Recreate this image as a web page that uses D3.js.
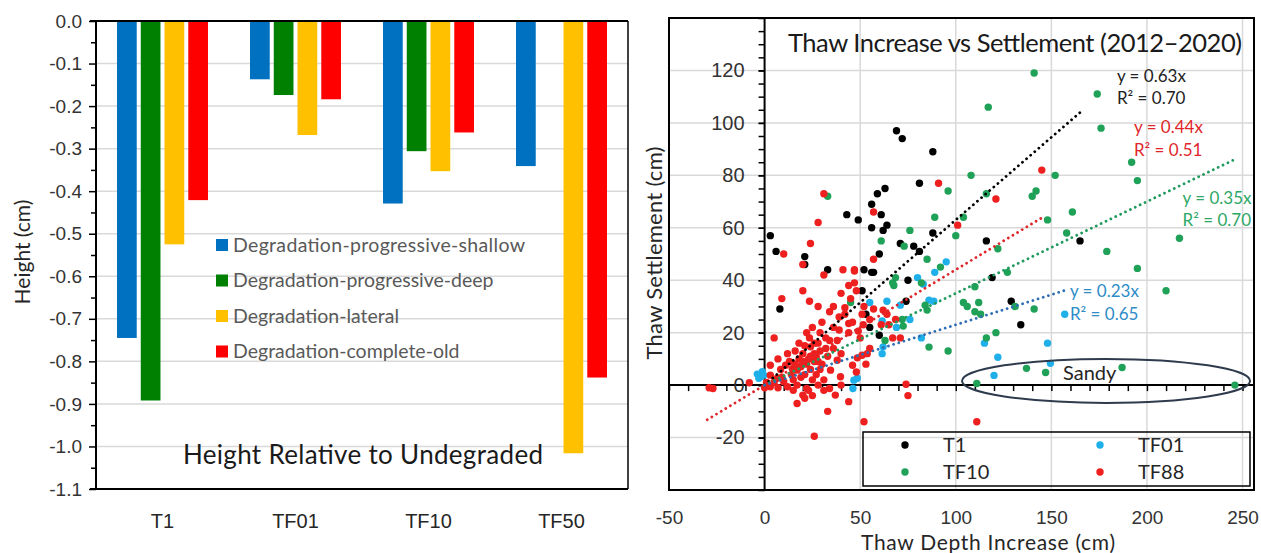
<!DOCTYPE html>
<html>
<head>
<meta charset="utf-8">
<script src="https://cdn.jsdelivr.net/npm/d3@7"></script>
<style>
  body { margin: 0; background: #fff; }
  svg { display: block; font-family: Lato, "Open Sans", sans-serif; }
</style>
</head>
<body>
<svg id="chart" width="1261" height="553"></svg>
<script>
// ---- left panel: bar chart ----
const sites = ['T1', 'TF01', 'TF10', 'TF50'];
const degradationTypes = ['Degradation-progressive-shallow', 'Degradation-progressive-deep', 'Degradation-lateral', 'Degradation-complete-old'];
const shallowVals = [-0.745, -0.137, -0.429, -0.341];
const deepVals = [-0.892, -0.174, -0.306, null];
const lateralVals = [-0.525, -0.268, -0.353, -1.016];
const completeOldVals = [-0.421, -0.184, -0.262, -0.838];
const heightTicks = [0, -0.1, -0.2, -0.3, -0.4, -0.5, -0.6, -0.7, -0.8, -0.9, -1.0, -1.1];
const barColors = ['#0070c0', '#008000', '#ffc000', '#ff0000'];

// ---- right panel: scatter ----
const t1Points = [[3,57],[6,51],[21,49],[21,46],[33,44],[43,65],[49,63],[56,69],[61,65],[56,60],[62,59],[64,61],[59,73],[63,75],[69,97],[72,94],[88,89],[81,77],[71,54],[78,53],[81,51],[88,58],[60,50],[56,43],[52,44],[57,43],[116,55],[165,55],[119,41],[129,32],[134,23],[75,40],[74,32],[8,29],[51,36],[53,27],[55,22],[60,19]];
const tf01Points = [[95,47],[89,43],[80,41],[83,38.5],[157,27],[115,16],[148,16],[122,10.6],[149.5,8.3],[120,3.7],[64,32],[71,30.5],[86,32.4],[88.5,32],[76,25],[69,22],[61.5,24.5],[82,18],[62,14.6],[61.5,12],[55,31.5],[-3.8,4.2],[-2.1,3.2],[-1.2,5.1],[-3,2.6],[-0.5,3.8],[46.7,1.9],[46.2,-1.3],[48.5,2.6]];
const tf10Points = [[33,72],[61,55],[76,59],[73,53],[89,64],[96,74],[85,48],[92,45],[68.5,41],[108,80],[116,73],[104,64],[100,57],[122,52],[142,74],[140,72],[148,63],[127,43],[141,119],[117,106],[174,111],[176,98],[192,85],[195,78],[152,80],[161,66],[158,58],[179,51],[217,56],[195,44.5],[210,36],[110,37.5],[104,31.5],[106,30],[112,31.5],[110,28],[113,27],[131,30],[141,29],[96,13],[116,18],[121,20],[137,6.4],[147,4.8],[187,6.7],[111,0.6],[246,0],[67.6,38],[84,30.5],[85,28.6],[72.5,22.5],[72,25],[63,17],[86,14.5],[45,31.5],[67,39],[82,39]];
const tf88Points = [[10,50],[20,46],[24,54],[28,62],[31,73],[31,42],[41,44],[47,44],[57,66],[57,48],[91,77],[121,71],[145,82],[101,61],
  [9,33],[20,36],[23.5,32],[28,30],[34,28],[40,35],[44,38],[47,39],[47,43.5],[5,18],[23.5,18],[32,18],[39,21],[44,23.5],[46,24],[42,29.5],[42,27],[52,30],[51,27],[51.6,23],[49,20.6],[44,20],[57,29],[61,23],[64,27],[65,23],[68.5,25],[67,18],[71,18],[62,28.6],
  [74,0.3],[75,-4],[111,-14],[52,-14],[26,-19.5],[33,-10],[44,-6.3],[37,-3.8],[-29,-1],[-27,-1.3],[-8,0.9],
  [29,13],[24,14.6],[26,12],[38,9.5],[34.5,5.7],[39.7,3.2],[46,7.6],[48.5,10.4],[51,11.4],[53.7,12],[55,14],[3,7.6],[3,3.8],[8.4,6],[11,7.6],[14.5,6.3],[17,5.7],[6.6,2.6],[10,1.3],[3,-0.6],[12,-0.6],[17,0],[22,-1.3],[28,0],[34,-1.3],[20,-3.8],[23,-2],[21,-5],[17,-7],
  [18,10],[20,12],[22,8],[24,6],[26,9],[27,4],[25,2],[19,3],[15,2],[13,9],[21,15],[16,13],[28,16],[30,8],[31,2],[36,14],[33,11],[12,12],[7,10],[22,20],[25,22],[30,24],[36,22],[38,17],[40,12],[27,11],[23,10],[19,7],[29,6],[14,4],[9,3],[5,1],[1,1],[0,-1],[36,30],[39,26],[45,33],[48,36],[50,18],[55,25],[53,8],[48,5],[31,-2],[25,-4],[15,-2],[7,-1],[40,0],
  [18,16],[20,9],[24,11],[26,16],[28,9],[21,4],[16,8],[32,14],[34,17],[29,20]];
const seriesNames = ['T1', 'TF01', 'TF10', 'TF88'];
const pointColors = ['#000000', '#1fb0ea', '#1fa257', '#ee1f1f'];
const trendSlopes = [0.63, 0.44, 0.35, 0.23];
const trendSpans = [[0, 165], [-30, 145], [0, 246], [0, 158]];
const trendColors = ['#000000', '#e0262a', '#1f9a5c', '#2f6db3'];
const eqLabels = ['y = 0.63x', 'y = 0.44x', 'y = 0.35x', 'y = 0.23x'];
const r2Labels = ['R\u00b2 = 0.70', 'R\u00b2 = 0.51', 'R\u00b2 = 0.70', 'R\u00b2 = 0.65'];
const eqAnchors = [[184.3, 115.6], [193.2, 96.1], [218.6, 69.1], [159.7, 33.6]];
const eqColors = ['#222222', '#e0262a', '#2ea866', '#2e8cc8'];
const depthTicks = [-50, 0, 50, 100, 150, 200, 250];
const settleTicks = [-20, 0, 20, 40, 60, 80, 100, 120];

const svg = d3.select('#chart');
svg.append('rect').attr('width', 1261).attr('height', 553).attr('fill', '#fff');

// ================= LEFT PANEL =================
const L = { left: 96, right: 628, top: 21, bottom: 489 };
const x0 = d3.scaleBand().domain(sites).range([L.left, L.right]).paddingInner(0.316).paddingOuter(0.158);
const x1 = d3.scaleBand().domain(degradationTypes).range([0, x0.bandwidth()]).paddingInner(0.17).paddingOuter(0);
const yH = d3.scaleLinear().domain([-1.1, 0]).range([L.bottom, L.top]);

const left = svg.append('g');

// gridlines
left.append('g').selectAll('line')
  .data(heightTicks.filter(d => d < 0 && d > -1.1))
  .join('line')
  .attr('x1', L.left).attr('x2', L.right)
  .attr('y1', d => yH(d)).attr('y2', d => yH(d))
  .attr('stroke', '#d9d9d9').attr('stroke-width', 1.5);

// bars
const barSeries = [shallowVals, deepVals, lateralVals, completeOldVals];
degradationTypes.forEach((name, i) => {
  left.append('g').selectAll('rect')
    .data(barSeries[i].map((v, j) => ({ site: sites[j], v })).filter(d => d.v !== null))
    .join('rect')
    .attr('x', d => x0(d.site) + x1(name))
    .attr('width', x1.bandwidth())
    .attr('y', yH(0))
    .attr('height', d => yH(d.v) - yH(0))
    .attr('fill', barColors[i]);
});

// axes
const yAxisL = left.append('g').attr('transform', `translate(${L.left},0)`)
  .call(d3.axisLeft(yH).tickValues(heightTicks).tickSize(7).tickPadding(7).tickFormat(d => d.toFixed(1)));
yAxisL.select('.domain').remove();
yAxisL.selectAll('line').attr('stroke', '#000').attr('stroke-width', 1.5);
yAxisL.selectAll('text').attr('font-size', 19).attr('fill', '#333');

const minorL = left.append('g').attr('transform', `translate(${L.left},0)`)
  .call(d3.axisLeft(yH).tickValues(d3.range(-1.05, 0, 0.1)).tickSize(5).tickFormat(''));
minorL.select('.domain').remove();
minorL.selectAll('line').attr('stroke', '#000').attr('stroke-width', 1.5);

left.append('line').attr('x1', L.left).attr('x2', L.left).attr('y1', yH(0)).attr('y2', yH(-1.1)).attr('stroke', '#000').attr('stroke-width', 2);
left.append('line').attr('x1', L.left - 6).attr('x2', L.right).attr('y1', yH(0)).attr('y2', yH(0)).attr('stroke', '#000').attr('stroke-width', 2);
left.append('line').attr('x1', L.left - 6).attr('x2', L.right).attr('y1', yH(-1.1)).attr('y2', yH(-1.1)).attr('stroke', '#000').attr('stroke-width', 2);
left.append('line').attr('x1', L.right).attr('x2', L.right).attr('y1', yH(0)).attr('y2', yH(-1.1)).attr('stroke', '#000').attr('stroke-width', 1.5);

const xAxisL = left.append('g').attr('transform', `translate(0,${L.bottom})`)
  .call(d3.axisBottom(x0).tickSize(0).tickPadding(25));
xAxisL.select('.domain').remove();
xAxisL.selectAll('text').attr('font-size', 20).attr('fill', '#262626');

left.append('text')
  .attr('transform', 'translate(30,252) rotate(-90)')
  .attr('text-anchor', 'middle').attr('font-size', 21).attr('fill', '#262626')
  .text('Height (cm)');

left.append('text')
  .attr('x', 183).attr('y', 464).attr('font-size', 26).attr('fill', '#1a1a1a')
  .attr('textLength', 360)
  .text('Height Relative to Undegraded');

// legend
const legL = left.append('g').selectAll('g').data(degradationTypes).join('g')
  .attr('transform', (d, i) => `translate(216,${245 + i * 35.5})`);
legL.append('rect').attr('x', 0).attr('y', -6).attr('width', 12).attr('height', 12).attr('fill', (d, i) => barColors[i]);
legL.append('text').attr('x', 17).attr('y', 6.5).attr('font-size', 19.5).attr('fill', '#595959').text(d => d);
legL.filter((d, i) => i === 0).select('text').attr('textLength', 292);

// ================= RIGHT PANEL =================
const R = { left: 669, right: 1254, top: 18, bottom: 490 };
const xs = d3.scaleLinear().domain([-50, 256]).range([R.left, R.right]);
const ys = d3.scaleLinear().domain([-40, 140]).range([R.bottom, R.top]);

const right = svg.append('g');

// gridlines
right.append('g').selectAll('line').data([50, 100, 150, 200, 250]).join('line')
  .attr('x1', d => xs(d)).attr('x2', d => xs(d)).attr('y1', R.top).attr('y2', R.bottom)
  .attr('stroke', '#d9d9d9').attr('stroke-width', 1.5);
right.append('g').selectAll('line').data(settleTicks.filter(d => d !== 0)).join('line')
  .attr('x1', R.left).attr('x2', R.right).attr('y1', d => ys(d)).attr('y2', d => ys(d))
  .attr('stroke', '#d9d9d9').attr('stroke-width', 1.5);

// axes through origin
right.append('line').attr('x1', R.left).attr('x2', R.right).attr('y1', ys(0)).attr('y2', ys(0)).attr('stroke', '#000').attr('stroke-width', 2);
right.append('line').attr('x1', xs(0)).attr('x2', xs(0)).attr('y1', R.top).attr('y2', R.bottom).attr('stroke', '#000').attr('stroke-width', 2);

const yAxisR = right.append('g').attr('transform', `translate(${xs(0)},0)`)
  .call(d3.axisLeft(ys).tickValues(settleTicks).tickSize(6).tickPadding(14).tickFormat(d => String(d)));
yAxisR.select('.domain').remove();
yAxisR.selectAll('line').attr('stroke', '#000').attr('stroke-width', 1.5);
yAxisR.selectAll('text').attr('font-size', 20).attr('fill', '#333');

const minorYR = right.append('g').attr('transform', `translate(${xs(0)},0)`)
  .call(d3.axisLeft(ys).tickValues(d3.range(-40, 141, 5)).tickSize(6).tickFormat(''));
minorYR.select('.domain').remove();
minorYR.selectAll('line').attr('stroke', '#000').attr('stroke-width', 1.5);

const minorXR = right.append('g').attr('transform', `translate(0,${ys(0)})`)
  .call(d3.axisBottom(xs).tickValues(d3.range(-50, 251, 10)).tickSize(6).tickFormat(''));
minorXR.select('.domain').remove();
minorXR.selectAll('line').attr('stroke', '#000').attr('stroke-width', 1.5);

const xAxisR = right.append('g').attr('transform', `translate(0,${R.bottom})`)
  .call(d3.axisBottom(xs).tickValues(depthTicks).tickSize(0).tickPadding(21).tickFormat(d => String(d)));
xAxisR.select('.domain').remove();
xAxisR.selectAll('text').attr('font-size', 19).attr('fill', '#333');

// points
const allPoints = [t1Points, tf01Points, tf10Points, tf88Points];
allPoints.forEach((pts, i) => {
  right.append('g').selectAll('circle').data(pts).join('circle')
    .attr('cx', d => xs(d[0])).attr('cy', d => ys(d[1])).attr('r', 3.7)
    .attr('fill', pointColors[i]);
});

// trend lines: black, red, green, blue
trendSlopes.forEach((m, i) => {
  const span = trendSpans[i];
  right.append('line')
    .attr('x1', xs(span[0])).attr('y1', ys(m * span[0]))
    .attr('x2', xs(span[1])).attr('y2', ys(m * span[1]))
    .attr('stroke', trendColors[i]).attr('stroke-width', 2.8)
    .attr('stroke-linecap', 'round').attr('stroke-dasharray', '0.01 5.4');
});

// equations
eqLabels.forEach((t, i) => {
  const a = eqAnchors[i];
  right.append('text').attr('x', xs(a[0])).attr('y', ys(a[1]))
    .attr('font-size', 17).attr('fill', eqColors[i]).text(t);
  right.append('text').attr('x', xs(a[0])).attr('y', ys(a[1]) + 22.5)
    .attr('font-size', 17).attr('fill', eqColors[i]).text(r2Labels[i]);
});

// sandy ellipse
right.append('ellipse').attr('cx', xs(178.6)).attr('cy', ys(1.6)).attr('rx', 144).attr('ry', 22)
  .attr('fill', 'none').attr('stroke', '#2e3b4c').attr('stroke-width', 2);
right.append('text').attr('x', 1063).attr('y', 380).attr('font-size', 20).attr('fill', '#262626').text('Sandy');

// frame
right.append('rect').attr('x', R.left).attr('y', R.top).attr('width', R.right - R.left).attr('height', R.bottom - R.top)
  .attr('fill', 'none').attr('stroke', '#000').attr('stroke-width', 2);

// legend (fills row-wise: T1, TF01 / TF10, TF88)
right.append('rect').attr('x', 863).attr('y', 432).attr('width', 387).attr('height', 54)
  .attr('fill', 'none').attr('stroke', '#000').attr('stroke-width', 1.5);
const legR = right.append('g').selectAll('g').data(seriesNames).join('g')
  .attr('transform', (d, i) => `translate(${i % 2 === 0 ? 905 : 1100},${i < 2 ? 445 : 472})`);
legR.append('circle').attr('r', 3.7).attr('fill', (d, i) => pointColors[i]);
legR.append('text').attr('x', 38).attr('y', 7).attr('font-size', 20).attr('fill', '#262626').text(d => d);

right.append('text').attr('x', 788).attr('y', 52).attr('font-size', 25.5).attr('fill', '#1a1a1a')
  .attr('textLength', 454).text('Thaw Increase vs Settlement (2012\u20132020)');

right.append('text').attr('x', 988).attr('y', 550).attr('text-anchor', 'middle')
  .attr('font-size', 21).attr('fill', '#262626').attr('textLength', 254)
  .text('Thaw Depth Increase (cm)');

right.append('text').attr('transform', 'translate(662,253) rotate(-90)')
  .attr('text-anchor', 'middle').attr('font-size', 22).attr('fill', '#262626').attr('textLength', 213)
  .text('Thaw Settlement (cm)');
</script>
</body>
</html>
